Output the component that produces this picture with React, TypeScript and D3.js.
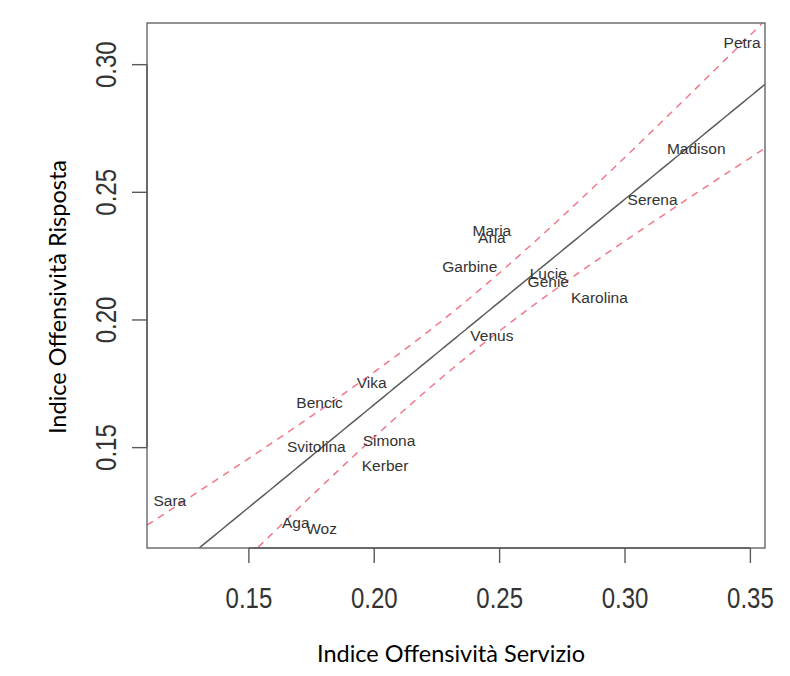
import React from 'react';
import * as d3 from 'd3';

// ---- data ----
const players = ['Petra', 'Madison', 'Serena', 'Maria', 'Ana', 'Garbine', 'Lucie', 'Genie', 'Karolina', 'Venus', 'Vika', 'Bencic', 'Svitolina', 'Simona', 'Kerber', 'Sara', 'Aga', 'Woz'];
const serviceIndex = [0.3467, 0.3284, 0.3110, 0.2469, 0.2469, 0.2381, 0.2694, 0.2694, 0.2898, 0.2469, 0.1990, 0.1782, 0.1769, 0.2059, 0.2043, 0.1185, 0.1687, 0.1790];
const responseIndex = [0.3087, 0.2673, 0.2471, 0.2351, 0.2325, 0.2210, 0.2181, 0.2150, 0.2090, 0.1939, 0.1756, 0.1677, 0.1505, 0.1529, 0.1430, 0.1294, 0.1208, 0.1183];
const xTicks = [0.15, 0.2, 0.25, 0.3, 0.35];
const yTicks = [0.15, 0.2, 0.25, 0.3];
const xTitle = 'Indice Offensività Servizio';
const yTitle = 'Indice Offensività Risposta';
const T_CRIT = 2.119905; // qt(0.975, df = 16)

const W = 790;
const H = 676;
const box = { left: 147, right: 765, top: 23, bottom: 548 };

function rRange(v: number[]): [number, number] {
  const [lo, hi] = d3.extent(v) as [number, number];
  const pad = (hi - lo) * 0.04;
  return [lo - pad, hi + pad];
}

export default function App() {
  const xDom = rRange(serviceIndex);
  const yDom = rRange(responseIndex);
  const x = d3.scaleLinear().domain(xDom).range([box.left, box.right]);
  const y = d3.scaleLinear().domain(yDom).range([box.bottom, box.top]);

  // linear fit + 95% confidence band
  const n = serviceIndex.length;
  const mx = d3.mean(serviceIndex) as number;
  const my = d3.mean(responseIndex) as number;
  let sxx = 0, sxy = 0;
  serviceIndex.forEach((xi, i) => {
    sxx += (xi - mx) * (xi - mx);
    sxy += (xi - mx) * (responseIndex[i] - my);
  });
  const b = sxy / sxx;
  const a = my - b * mx;
  let ssr = 0;
  serviceIndex.forEach((xi, i) => {
    const r = responseIndex[i] - (a + b * xi);
    ssr += r * r;
  });
  const s = Math.sqrt(ssr / (n - 2));
  const se = (xv: number) => s * Math.sqrt(1 / n + ((xv - mx) * (xv - mx)) / sxx);
  const grid = d3.range(0, 201).map((i) => xDom[0] + ((xDom[1] - xDom[0]) * i) / 200);
  const line = d3
    .line<[number, number]>()
    .x((d) => x(d[0]))
    .y((d) => y(d[1]));
  const fitPath = line(grid.map((g) => [g, a + b * g] as [number, number]));
  const upPath = line(grid.map((g) => [g, a + b * g + T_CRIT * se(g)] as [number, number]));
  const loPath = line(grid.map((g) => [g, a + b * g - T_CRIT * se(g)] as [number, number]));

  const axisColor = '#5a5a5a';
  const textColor = '#333';

  return (
    <svg width={W} height={H} style={{ position: 'absolute', left: 0, top: 0, background: '#fff' }}>
      <defs>
        <clipPath id="plotClip">
          <rect x={box.left} y={box.top} width={box.right - box.left} height={box.bottom - box.top} />
        </clipPath>
      </defs>
      <rect x={0} y={0} width={W} height={H} fill="#fff" />
      <g clipPath="url(#plotClip)" fill="none">
        <path d={fitPath || ''} stroke="#5c5c5c" strokeWidth={1.5} />
        <path d={upPath || ''} stroke="#f0788a" strokeWidth={1.5} strokeDasharray="7,6" />
        <path d={loPath || ''} stroke="#f0788a" strokeWidth={1.5} strokeDasharray="7,6" />
      </g>
      {players.map((p, i) => (
        <text
          key={p}
          x={x(serviceIndex[i])}
          y={y(responseIndex[i])}
          dy="0.36em"
          textAnchor="middle"
          fontFamily="'Liberation Sans', Arial, sans-serif"
          fontSize={15.5}
          fill={textColor}
        >
          {p}
        </text>
      ))}
      <rect
        x={box.left}
        y={box.top}
        width={box.right - box.left}
        height={box.bottom - box.top}
        fill="none"
        stroke="#666"
        strokeWidth={1.4}
      />
      {/* x axis */}
      <line x1={x(xTicks[0])} x2={x(xTicks[xTicks.length - 1])} y1={box.bottom} y2={box.bottom} stroke={axisColor} strokeWidth={1.4} />
      {xTicks.map((t) => (
        <g key={'xt' + t}>
          <line x1={x(t)} x2={x(t)} y1={box.bottom} y2={box.bottom + 15} stroke={axisColor} strokeWidth={1.4} />
          <text
            transform={`translate(${x(t)},597.5) scale(1,1.25)`}
            dy="0.36em"
            textAnchor="middle"
            fontFamily="'Liberation Sans', Arial, sans-serif"
            fontSize={24}
            fill={textColor}
          >
            {t.toFixed(2)}
          </text>
        </g>
      ))}
      {/* y axis */}
      <line x1={box.left} x2={box.left} y1={y(yTicks[0])} y2={y(yTicks[yTicks.length - 1])} stroke={axisColor} strokeWidth={1.4} />
      {yTicks.map((t) => (
        <g key={'yt' + t}>
          <line x1={box.left - 15} x2={box.left} y1={y(t)} y2={y(t)} stroke={axisColor} strokeWidth={1.4} />
          <text
            transform={`translate(105,${y(t)}) rotate(-90) scale(1,1.25)`}
            dy="0.36em"
            textAnchor="middle"
            fontFamily="'Liberation Sans', Arial, sans-serif"
            fontSize={24}
            fill={textColor}
          >
            {t.toFixed(2)}
          </text>
        </g>
      ))}
      <text x={451} y={662} textAnchor="middle" fontFamily="Lato, 'Open Sans', sans-serif" fontSize={23.5} fill="#000">
        {xTitle}
      </text>
      <text
        transform={`translate(66,297) rotate(-90)`}
        textAnchor="middle"
        fontFamily="Lato, 'Open Sans', sans-serif"
        fontSize={23.5}
        fill="#000"
      >
        {yTitle}
      </text>
    </svg>
  );
}
